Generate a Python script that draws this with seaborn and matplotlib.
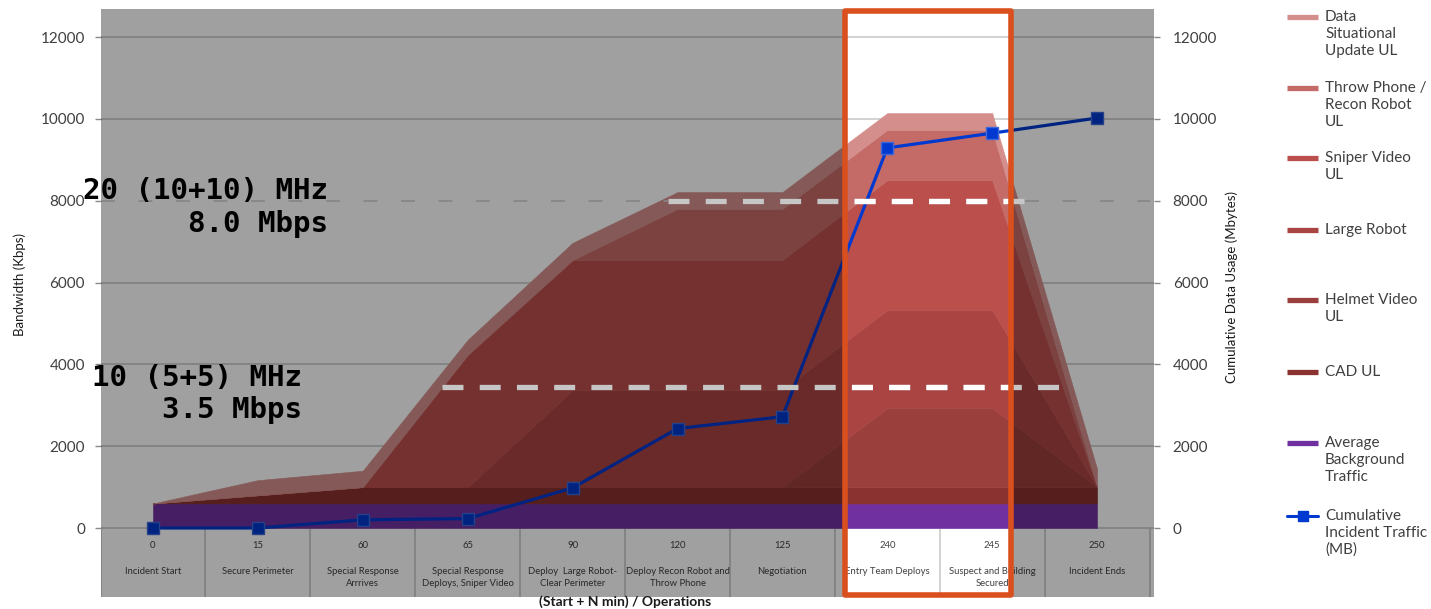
import numpy as np
import pandas as pd
import matplotlib
matplotlib.use("Agg")
import matplotlib.pyplot as plt
import seaborn as sns
from matplotlib.patches import Rectangle
from matplotlib.lines import Line2D

# ---------------- data ----------------
minutes = ["0", "15", "60", "65", "90", "120", "125", "240", "245", "250"]
operations = ["Incident Start", "Secure Perimeter", "Special Response\nArrrives",
              "Special Response\nDeploys, Sniper Video", "Deploy  Large Robot-\nClear Perimeter",
              "Deploy Recon Robot and\nThrow Phone", "Negotiation", "Entry Team Deploys",
              "Suspect and Building\nSecured", "Incident Ends"]

background_traffic = [600, 600, 600, 600, 600, 600, 600, 600, 600, 600]
cad_ul = [0, 200, 400, 400, 400, 400, 400, 400, 400, 400]
helmet_video_ul = [0, 0, 0, 0, 0, 0, 0, 1930, 1930, 0]
large_robot = [0, 0, 0, 0, 2370, 2370, 2370, 2400, 2400, 0]
sniper_video_ul = [0, 0, 0, 3230, 3180, 3180, 3180, 3170, 3170, 0]
throw_phone_ul = [0, 0, 0, 0, 0, 1250, 1250, 1230, 1230, 0]
data_situational_ul = [0, 370, 400, 370, 420, 410, 410, 410, 410, 440]
cumulative_mb = [0, 0, 200, 230, 980, 2430, 2720, 9290, 9650, 10020]

capacity_kbps = [8000, 3450]
capacity_text = ["20 (10+10) MHz\n8.0 Mbps", "10 (5+5) MHz\n3.5 Mbps"]

series_names = ["Average\nBackground\nTraffic", "CAD UL", "Helmet Video\nUL", "Large Robot",
                "Sniper Video\nUL", "Throw Phone /\nRecon Robot\nUL", "Data\nSituational\nUpdate UL"]
line_name = "Cumulative\nIncident Traffic\n(MB)"
yticks = [0, 2000, 4000, 6000, 8000, 10000, 12000]

# ---------------- style ----------------
colors = ["#7030a0", "#8a3230", "#9b3f3c", "#a94442", "#bb4f4c", "#c46a67", "#d48f8d"]
blue = "#0039d0"
orange = "#d9501e"

sns.set_theme(style="white")
plt.rcParams["font.family"] = ["Lato", "DejaVu Sans"]
plt.rcParams["lines.scale_dashes"] = False

W, H = 1431, 609
fig = plt.figure(figsize=(W / 100, H / 100), dpi=100)
fig.patch.set_facecolor("white")

# pixel geometry of the plot area
PX_L, PX_R, PX_T, PX_B = 101, 1154, 9, 597
CAT0, CAT_STEP = 153.0, 104.9
Y0, SY = 528.0, 491.0 / 12000.0


def xd(px):
    return (px - CAT0) / CAT_STEP


def yd(py):
    return (Y0 - py) / SY


ax = fig.add_axes([PX_L / W, 1 - PX_B / H, (PX_R - PX_L) / W, (PX_B - PX_T) / H])
ax.set_facecolor("white")
xlim = (xd(PX_L), xd(PX_R))
ylim = (yd(PX_B), yd(PX_T))
ax.set_xlim(*xlim)
ax.set_ylim(*ylim)
for s in ax.spines.values():
    s.set_visible(False)

x = np.arange(len(minutes))
polys = ax.stackplot(x, background_traffic, cad_ul, helmet_video_ul, large_robot,
                     sniper_video_ul, throw_phone_ul, data_situational_ul,
                     colors=colors, zorder=2)
for p, c in zip(polys, colors):
    p.set_edgecolor(c)
    p.set_linewidth(0.4)

ax.set_yticks(yticks)
ax.set_yticklabels([str(v) for v in yticks])
ax.set_xticks([])
ax.yaxis.tick_left()
ax.tick_params(axis="y", left=True, length=4.5, width=1.0, color="#8a8a8a", pad=7,
               labelsize=11, labelcolor="#404040")
ax.grid(axis="y", color="#cfcfcf", lw=1.3)
ax.grid(axis="x", visible=False)
ax.set_axisbelow(True)
# the 8000 gridline is replaced by the dashed capacity line
for tick_val, gl in zip(yticks, ax.yaxis.get_gridlines()):
    if tick_val == capacity_kbps[0]:
        gl.set_visible(False)

# category separators & labels in the axis band
ax.vlines(np.arange(-0.5, len(minutes), 1.0), ylim[0], 0, color="#cfcfcf", lw=1.3, zorder=1)
for i, (m, op) in enumerate(zip(minutes, operations)):
    ax.text(i, yd(546), m, ha="center", va="center", fontsize=6.8, color="#404040", zorder=1)
    for j, ln in enumerate(op.split("\n")):
        ax.text(i, yd(571 + 12 * j), ln, ha="center", va="center", fontsize=6.8,
                color="#404040", zorder=1)

# secondary axis with cumulative traffic
ax2 = ax.twinx()
ax2.set_ylim(*ylim)
ax2.set_xlim(*xlim)
ax2.patch.set_visible(False)
for s in ax2.spines.values():
    s.set_visible(False)
df = pd.DataFrame({"pos": x, "mb": cumulative_mb})
sns.lineplot(data=df, x="pos", y="mb", ax=ax2, color=blue, lw=2.3, marker="s",
             markersize=8.5, markeredgecolor="#3d68d8", markeredgewidth=1.0, zorder=3)
ax2.set_xlabel("")
ax2.set_ylabel("")
ax2.set_yticks(yticks)
ax2.set_yticklabels([str(v) for v in yticks])
ax2.yaxis.tick_right()
ax2.tick_params(axis="y", right=True, length=4.5, width=1.0, color="#8a8a8a", pad=9,
                labelsize=11, labelcolor="#404040")
ax2.grid(False)

# dimming overlay except highlighted column
hl_x0, hl_x1 = xd(845.5), xd(1010.5)
ax2.add_patch(Rectangle((xlim[0], ylim[0]), hl_x0 - xlim[0], ylim[1] - ylim[0],
                        facecolor="black", alpha=0.373, lw=0, zorder=5))
ax2.add_patch(Rectangle((hl_x1, ylim[0]), xlim[1] - hl_x1, ylim[1] - ylim[0],
                        facecolor="black", alpha=0.373, lw=0, zorder=5))

# capacity lines
thin_dash = (10.0, 17.0)
thick_dash = (15.1, 11.7)
ax2.plot([xlim[0], xd(668)], [capacity_kbps[0]] * 2, color="#858585", lw=1.2,
         dashes=thin_dash, zorder=6)
ax2.plot([xd(1025), xd(1150)], [capacity_kbps[0]] * 2, color="#858585", lw=1.2,
         dashes=thin_dash, zorder=6)
spans = [(xd(668), xd(1025)), (xd(442), xd(1061))]
for v, (a, b) in zip(capacity_kbps, spans):
    ax2.plot([a, b], [v, v], color="#c6c6c6", lw=3.8, dashes=thick_dash,
             dash_capstyle="butt", zorder=6)
    ln, = ax2.plot([a, b], [v, v], color="white", lw=3.8, dashes=thick_dash,
                   dash_capstyle="butt", zorder=6.5)
    clip = Rectangle((hl_x0, ylim[0]), hl_x1 - hl_x0, ylim[1] - ylim[0], transform=ax2.transData)
    ln.set_clip_path(clip)

# highlight box
box = Rectangle((hl_x0, yd(594.5)), hl_x1 - hl_x0, yd(10.5) - yd(594.5), fill=False,
                edgecolor=orange, lw=4.0, joinstyle="round", zorder=10, clip_on=False)
ax2.add_patch(box)

# capacity annotations
for txt, (rx, cy) in zip(capacity_text, [(328, 207.5), (302, 394)]):
    fig.text(rx / W, 1 - cy / H, txt, ha="right", va="center", multialignment="right",
             fontsize=21, fontweight="bold", family="DejaVu Sans Mono", color="black",
             linespacing=1.2)

# axis titles
fig.text(20 / W, 1 - 284 / H, "Bandwidth (Kbps)", rotation=90, ha="center", va="center",
         fontsize=9.5, color="#1a1a1a")
fig.text(1232 / W, 1 - 287 / H, "Cumulative Data Usage (Mbytes)", rotation=90, ha="center",
         va="center", fontsize=9.5, color="#1a1a1a")
fig.text(625 / W, 1 - 602 / H, "(Start + N min) / Operations", ha="center", va="center",
         fontsize=10, fontweight="bold", color="#1a1a1a")

# legend (top layer first)
leg_y = [17, 88, 158, 230, 300, 372, 443, 516]
leg_items = list(zip(series_names[::-1], colors[::-1])) + [(line_name, blue)]
for k, ((name, col), yc) in enumerate(zip(leg_items, leg_y)):
    yf = 1 - yc / H
    if k < len(series_names):
        fig.add_artist(Line2D([1287 / W, 1318 / W], [yf, yf], color=col, lw=3.8,
                              solid_capstyle="butt", transform=fig.transFigure))
    else:
        fig.add_artist(Line2D([1287 / W, 1318 / W], [yf, yf], color=col, lw=2.2,
                              transform=fig.transFigure))
        fig.add_artist(Line2D([1302.5 / W], [yf], color=col, marker="s", markersize=7,
                              lw=0, transform=fig.transFigure))
    for j, ln in enumerate(name.split("\n")):
        fig.text(1325 / W, 1 - (yc + 17 * j) / H, ln, ha="left", va="center",
                 fontsize=11, color="#404040")

fig.savefig("out.png", dpi=100, facecolor="white")
